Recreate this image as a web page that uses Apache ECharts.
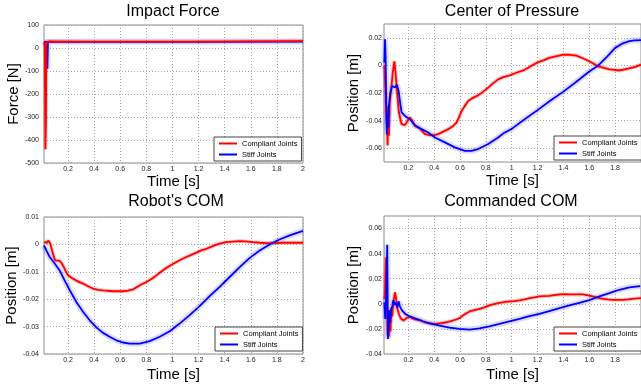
<!DOCTYPE html>
<html>
<head>
<meta charset="utf-8">
<script src="https://cdn.jsdelivr.net/npm/echarts@6/dist/echarts.min.js"></script>
<style>
html,body{margin:0;padding:0;background:#fff;}
#chart{width:641px;height:390px;}
</style>
</head>
<body>
<div id="chart"></div>
<script>
// ---------- DATA ----------
var seriesNames = ['Compliant Joints', 'Stiff Joints'];
var panelTitles = ['Impact Force', 'Center of Pressure', "Robot's COM", 'Commanded COM'];
var yNames = ['Force [N]', 'Position [m]', 'Position [m]', 'Position [m]'];
var xName = 'Time [s]';

var xTicksLeft = [0.2, 0.4, 0.6, 0.8, 1, 1.2, 1.4, 1.6, 1.8, 2];
var xTicksRight = [0.2, 0.4, 0.6, 0.8, 1, 1.2, 1.4, 1.6, 1.8];
var yTicksForce = [-500, -400, -300, -200, -100, 0, 100];
var yTicksCop = [-0.06, -0.04, -0.02, 0, 0.02];
var yTicksRobotCom = [-0.04, -0.03, -0.02, -0.01, 0, 0.01];
var yTicksCmdCom = [-0.04, -0.02, 0, 0.02, 0.04, 0.06];

// [time, value]
var forceCompliant = [[0.016,24],[0.022,10],[0.027,-440],[0.031,-300],[0.034,27],[0.05,29],[0.3,28],[0.8,28],[1.2,28],[1.6,29],[2.0,30]];
var forceStiff = [[0.016,26],[0.038,26],[0.042,-90],[0.046,27],[0.3,27],[1.0,27],[2.0,28]];

var copCompliant = [[0.015,0.000],[0.019,0.0007],[0.03,-0.03],[0.04,-0.058],[0.045,-0.029],[0.05,-0.051],[0.056,-0.027],[0.065,-0.02],[0.08,-0.005],[0.092,0.003],[0.1,-0.004],[0.11,-0.015],[0.127,-0.034],[0.148,-0.0426],[0.174,-0.0433],[0.195,-0.040],[0.212,-0.0378],[0.23,-0.040],[0.251,-0.0438],[0.29,-0.0457],[0.328,-0.0498],[0.367,-0.0505],[0.40,-0.0505],[0.431,-0.0498],[0.47,-0.048],[0.509,-0.0462],[0.545,-0.044],[0.573,-0.0414],[0.595,-0.037],[0.612,-0.033],[0.64,-0.029],[0.663,-0.0258],[0.70,-0.0235],[0.74,-0.0217],[0.78,-0.019],[0.818,-0.0161],[0.855,-0.013],[0.895,-0.0101],[0.94,-0.0083],[0.985,-0.0072],[1.03,-0.0055],[1.1,-0.0032],[1.15,-0.0005],[1.2,0.0022],[1.25,0.0038],[1.29,0.0054],[1.35,0.0068],[1.4,0.0078],[1.45,0.0077],[1.5,0.0071],[1.55,0.0052],[1.6,0.003],[1.67,-0.0007],[1.75,-0.0027],[1.83,-0.0037],[1.9,-0.0024],[1.95,-0.0012],[2.0,0.0005]];
var copStiff = [[0.015,0.002],[0.02,0.019],[0.025,0.005],[0.03,-0.039],[0.035,-0.05],[0.04,-0.035],[0.045,-0.045],[0.05,-0.03],[0.06,-0.02],[0.075,-0.015],[0.085,-0.015],[0.1,-0.016],[0.11,-0.014],[0.124,-0.018],[0.135,-0.0258],[0.148,-0.034],[0.174,-0.0366],[0.212,-0.039],[0.251,-0.0433],[0.303,-0.0462],[0.354,-0.0486],[0.406,-0.0522],[0.483,-0.0558],[0.56,-0.0594],[0.637,-0.0619],[0.689,-0.0619],[0.74,-0.0606],[0.818,-0.057],[0.895,-0.0522],[0.94,-0.049],[1.0,-0.046],[1.1,-0.039],[1.2,-0.0324],[1.3,-0.0255],[1.4,-0.019],[1.5,-0.0118],[1.6,-0.0044],[1.67,0],[1.74,0.0065],[1.8,0.0127],[1.86,0.016],[1.91,0.0176],[1.95,0.0182],[2.0,0.0183]];

var robotComCompliant = [[0.016,0.0008],[0.03,0.0007],[0.039,0.0006],[0.048,0.0014],[0.054,0.0017],[0.065,0.0002],[0.075,-0.0018],[0.085,-0.0034],[0.095,-0.005],[0.103,-0.0058],[0.12,-0.0059],[0.136,-0.006],[0.15,-0.0068],[0.16,-0.0076],[0.18,-0.0095],[0.2,-0.0113],[0.238,-0.0125],[0.275,-0.0135],[0.315,-0.0143],[0.35,-0.0152],[0.39,-0.0161],[0.43,-0.0166],[0.468,-0.0168],[0.545,-0.0171],[0.62,-0.0171],[0.66,-0.0169],[0.70,-0.0164],[0.75,-0.0149],[0.80,-0.0137],[0.84,-0.0126],[0.877,-0.0113],[0.915,-0.0099],[0.953,-0.0086],[0.99,-0.0075],[1.03,-0.0064],[1.07,-0.0054],[1.106,-0.0046],[1.145,-0.0038],[1.183,-0.003],[1.22,-0.0022],[1.26,-0.0016],[1.30,-0.0008],[1.336,-0.0001],[1.37,0.0004],[1.41,0.0008],[1.46,0.001],[1.515,0.0012],[1.56,0.0011],[1.617,0.0008],[1.67,0.0006],[1.72,0.0005],[1.78,0.0005],[1.847,0.0006],[1.92,0.0006],[2.0,0.0006]];
var robotComStiff = [[0.016,-0.0004],[0.021,-0.0006],[0.034,-0.0022],[0.06,-0.0046],[0.098,-0.007],[0.136,-0.0095],[0.174,-0.0131],[0.213,-0.0167],[0.264,-0.021],[0.315,-0.0246],[0.366,-0.0277],[0.417,-0.0303],[0.468,-0.0323],[0.519,-0.0337],[0.57,-0.035],[0.62,-0.0358],[0.672,-0.0362],[0.749,-0.0362],[0.826,-0.0353],[0.902,-0.0337],[0.979,-0.0317],[1.055,-0.0289],[1.132,-0.0258],[1.208,-0.0225],[1.285,-0.0189],[1.362,-0.0155],[1.438,-0.0119],[1.515,-0.0083],[1.59,-0.005],[1.668,-0.0022],[1.745,0],[1.82,0.0018],[1.898,0.0033],[2.0,0.0049]];

var cmdComCompliant = [[0.014,0.004],[0.02,0.008],[0.028,0.037],[0.036,-0.01],[0.04,-0.025],[0.046,-0.005],[0.05,-0.026],[0.056,-0.012],[0.062,-0.022],[0.068,-0.003],[0.075,-0.01],[0.085,0.002],[0.097,0.009],[0.105,0.005],[0.115,-0.004],[0.13,-0.009],[0.145,-0.012],[0.165,-0.0133],[0.19,-0.011],[0.215,-0.0105],[0.24,-0.012],[0.262,-0.0125],[0.29,-0.013],[0.313,-0.0141],[0.34,-0.015],[0.365,-0.0155],[0.39,-0.0158],[0.416,-0.016],[0.45,-0.0155],[0.493,-0.0147],[0.53,-0.0138],[0.57,-0.0125],[0.6,-0.0112],[0.622,-0.0093],[0.65,-0.0075],[0.674,-0.0061],[0.71,-0.005],[0.75,-0.004],[0.79,-0.0028],[0.828,-0.0013],[0.87,-0.0001],[0.905,0.0008],[0.94,0.0014],[0.982,0.0019],[1.02,0.0022],[1.06,0.0027],[1.1,0.0035],[1.137,0.0045],[1.175,0.0052],[1.214,0.0059],[1.25,0.0062],[1.29,0.0064],[1.33,0.007],[1.369,0.0075],[1.41,0.0077],[1.446,0.0075],[1.5,0.0075],[1.549,0.0075],[1.59,0.0068],[1.626,0.0059],[1.665,0.0049],[1.703,0.004],[1.74,0.0035],[1.78,0.0032],[1.82,0.0031],[1.857,0.0031],[1.9,0.0035],[1.934,0.004],[1.97,0.0043],[2.0,0.0045]];
var cmdComStiff = [[0.014,0.001],[0.022,-0.012],[0.03,0.01],[0.037,0.047],[0.042,-0.028],[0.048,-0.02],[0.053,-0.005],[0.06,-0.015],[0.068,-0.004],[0.076,-0.002],[0.085,0.003],[0.095,-0.001],[0.105,0.001],[0.115,-0.003],[0.125,0.002],[0.135,-0.002],[0.15,-0.005],[0.175,-0.008],[0.21,-0.0099],[0.262,-0.012],[0.313,-0.0139],[0.365,-0.0155],[0.442,-0.0173],[0.519,-0.0189],[0.596,-0.02],[0.674,-0.0205],[0.75,-0.0195],[0.828,-0.0179],[0.905,-0.016],[0.982,-0.0139],[1.06,-0.012],[1.137,-0.0099],[1.214,-0.008],[1.29,-0.0059],[1.369,-0.0035],[1.446,-0.0013],[1.523,0.0008],[1.6,0.0029],[1.678,0.0059],[1.755,0.0085],[1.832,0.0112],[1.91,0.0131],[1.994,0.0141]];

// ---------- LAYOUT ----------
var FONT = 'Liberation Sans, Arial, sans-serif';
var panels = [
  {grid:{left:44, top:25, width:259, height:138}, xMin:0.016, xMax:2, yMin:-500, yMax:100, xTicks:xTicksLeft, yTicks:yTicksForce, yLabelMargin:5, xNameGap:11, yNameGap:22, title:{x:173, y:4}, legend:{x:214, y:137}, redOnTop:true, data:[forceCompliant, forceStiff]},
  {grid:{left:384, top:24, width:258, height:138}, xMin:0.012, xMax:2, yMin:-0.07, yMax:0.03, xTicks:xTicksRight, yTicks:yTicksCop, yLabelMargin:2, xNameGap:11, yNameGap:23, title:{x:512, y:4}, legend:{x:554, y:136}, redOnTop:false, data:[copCompliant, copStiff]},
  {grid:{left:44, top:217, width:259, height:137}, xMin:0.016, xMax:2, yMin:-0.04, yMax:0.01, xTicks:xTicksLeft, yTicks:yTicksRobotCom, yLabelMargin:5, xNameGap:13, yNameGap:22, title:{x:176, y:194}, legend:{x:215, y:327}, redOnTop:false, data:[robotComCompliant, robotComStiff]},
  {grid:{left:384, top:216, width:258, height:138}, xMin:0.012, xMax:2, yMin:-0.04, yMax:0.07, xTicks:xTicksRight, yTicks:yTicksCmdCom, yLabelMargin:2, xNameGap:13, yNameGap:23, title:{x:511, y:194}, legend:{x:554, y:327}, redOnTop:false, data:[cmdComCompliant, cmdComStiff]}
];

function fmt(v){ return String(parseFloat(Number(v).toFixed(4))); }

var grids = [], xAxes = [], yAxes = [], titles = [], legends = [], series = [];
var lineColors = ['#ff0000', '#0000ff'];
var bandColors = ['rgba(255,0,0,0.22)', 'rgba(60,60,255,0.18)'];
var bandWidths = [4, 6];

panels.forEach(function(p, i){
  grids.push(Object.assign({show:true, borderColor:'#8c8c8c', borderWidth:1, backgroundColor:'#fff', containLabel:false}, p.grid));
  var splitStyle = {show:true, lineStyle:{type:[1,2], color:'#a8a8a8', width:1}};
  xAxes.push({
    type:'value', gridIndex:i, min:p.xMin, max:p.xMax,
    axisLine:{show:false},
    axisTick:{show:false, customValues:p.xTicks},
    axisLabel:{customValues:p.xTicks, fontSize:7, color:'#222', margin:3, fontFamily:FONT, formatter:fmt},
    splitLine:splitStyle,
    name:xName, nameLocation:'middle', nameGap:p.xNameGap,
    nameTextStyle:{fontSize:15, color:'#000', fontFamily:FONT}
  });
  yAxes.push({
    type:'value', gridIndex:i, min:p.yMin, max:p.yMax,
    axisLine:{show:false},
    axisTick:{show:false, customValues:p.yTicks},
    axisLabel:{customValues:p.yTicks, fontSize:7, color:'#222', margin:p.yLabelMargin, fontFamily:FONT, formatter:fmt},
    splitLine:splitStyle,
    name:yNames[i], nameLocation:'middle', nameGap:p.yNameGap, nameRotate:90,
    nameTextStyle:{fontSize:15, color:'#000', fontFamily:FONT}
  });
  titles.push({
    text:panelTitles[i], left:p.title.x, top:p.title.y, textAlign:'center', padding:0,
    textStyle:{fontSize:16, fontWeight:'normal', color:'#000', fontFamily:FONT}
  });
  legends.push({
    data:seriesNames, left:p.legend.x, top:p.legend.y, orient:'vertical',
    icon:'rect', itemWidth:18, itemHeight:2, itemGap:2,
    padding:[2,4,2,5], borderColor:'#444', borderWidth:1, backgroundColor:'#fff',
    selectedMode:false,
    textStyle:{fontSize:7.5, lineHeight:9, color:'#000', fontFamily:FONT}
  });
  // bands
  [0,1].forEach(function(k){
    series.push({
      type:'line', name:'band'+i+'_'+k, xAxisIndex:i, yAxisIndex:i, data:p.data[k],
      showSymbol:false, symbol:'none', silent:true, z:1,
      lineStyle:{color:bandColors[k], width:bandWidths[k]}, color:bandColors[k]
    });
  });
  [0,1].forEach(function(k){
    var top = p.redOnTop ? (k === 0) : (k === 1);
    series.push({
      type:'line', name:seriesNames[k], xAxisIndex:i, yAxisIndex:i, data:p.data[k],
      showSymbol:false, symbol:'none', z:top ? 3 : 2,
      lineStyle:{color:lineColors[k], width:1.8}, color:lineColors[k]
    });
  });
});

var chart = echarts.init(document.getElementById('chart'), null, {renderer:'canvas'});
chart.setOption({
  animation:false,
  backgroundColor:'#fff',
  textStyle:{fontFamily:FONT},
  title:titles,
  legend:legends,
  grid:grids,
  xAxis:xAxes,
  yAxis:yAxes,
  series:series
});
</script>
</body>
</html>
